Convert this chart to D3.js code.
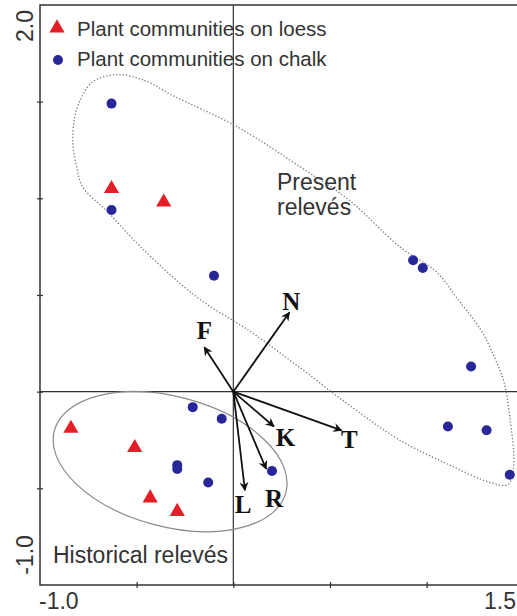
<!DOCTYPE html>
<html>

<head>
    <meta charset="utf-8">
    <style>
        body {
            margin: 0;
            background: white;
        }

        svg {
            display: block;
            font-family: 'Liberation Sans', Arial, sans-serif;
        }

        .frame {
            fill: none;
            stroke: #333;
            stroke-width: 1.5px;
        }

        .zero {
            stroke: #333;
            stroke-width: 1.2px;
        }

        .axis .domain {
            display: none;
        }

        .axis .tick line {
            stroke: #333;
            stroke-width: 1.2px;
        }

        .axis .tick text {
            display: none;
        }

        .big-label {
            font-size: 23px;
            fill: #333;
        }

        .vec-label {
            font-family: 'Liberation Serif', 'Times New Roman', serif;
            font-weight: bold;
            font-size: 25px;
            fill: #111;
        }
    </style>
</head>

<body>
    <svg width="517" height="616"></svg>

    <script src="https://d3js.org/d3.v7.min.js"></script>

    <script>
        // plant communities on loess (red triangles)
        let loessX = [-0.63, -0.36, -0.84, -0.51, -0.43, -0.29]
        let loessY = [1.05, 0.98, -0.19, -0.29, -0.55, -0.62]

        // plant communities on chalk (blue dots)
        let chalkX = [-0.63, -0.63, -0.10, 0.93, 0.98, 1.23, 1.11, 1.31, 1.43, -0.21, -0.06, -0.29, -0.29, -0.13, 0.20]
        let chalkY = [1.49, 0.94, 0.60, 0.68, 0.64, 0.13, -0.18, -0.20, -0.43, -0.08, -0.14, -0.38, -0.40, -0.47, -0.41]

        // environmental vectors
        let vecNames = ["N", "F", "K", "T", "R", "L"]
        let vecX = [0.29, -0.15, 0.21, 0.56, 0.17, 0.06]
        let vecY = [0.41, 0.23, -0.18, -0.20, -0.40, -0.51]
        let vecLabelX = [0.30, -0.15, 0.27, 0.60, 0.21, 0.05]
        let vecLabelY = [0.42, 0.27, -0.28, -0.29, -0.595, -0.625]

        // envelope round the present releves (dotted)
        let hullX = [-0.60, -0.46, -0.31, 0.02, 0.35, 0.60, 0.86, 1.05, 1.16, 1.28, 1.35, 1.40, 1.43, 1.45, 1.42, 1.33, 1.12, 0.86, 0.60, 0.35, 0.09, -0.19, -0.48, -0.65, -0.78, -0.81, -0.83, -0.81, -0.73]
        let hullY = [1.64, 1.61, 1.53, 1.37, 1.16, 0.99, 0.75, 0.62, 0.48, 0.32, 0.18, 0.05, -0.13, -0.39, -0.48, -0.47, -0.38, -0.25, -0.07, 0.12, 0.31, 0.49, 0.75, 0.93, 1.06, 1.16, 1.29, 1.46, 1.60]

        // ellipse round the historical releves: centre, semi axes, tilt (deg)
        let histCentre = [-0.327, -0.362]
        let histAxes = [0.62, 0.336]
        let histTilt = 15

        let xTicks = [-0.5, 0, 0.5, 1.0]
        let yTicks = [-0.5, 0, 0.5, 1.0, 1.5]

        let svg = d3.select("svg")

        let x = d3.scaleLinear()
            .domain([-1, 1.5])
            .range([40, 523.3])

        let y = d3.scaleLinear()
            .domain([-1, 2])
            .range([585, 5])

        let defs = svg.append("defs")
        defs.append("marker")
            .attr("id", "head")
            .attr("viewBox", "0 0 10 10")
            .attr("refX", 9)
            .attr("refY", 5)
            .attr("markerWidth", 12)
            .attr("markerHeight", 9)
            .attr("markerUnits", "userSpaceOnUse")
            .attr("orient", "auto")
            .append("path")
            .attr("d", "M0,0 L10,5 L0,10 L3,5 Z")
            .attr("fill", "#111")

        // frame
        svg.append("rect")
            .attr("class", "frame")
            .attr("x", x(-1))
            .attr("y", y(2))
            .attr("width", x(1.5) - x(-1))
            .attr("height", y(-1) - y(2))

        // zero lines
        svg.append("line")
            .attr("class", "zero")
            .attr("x1", x(0)).attr("x2", x(0))
            .attr("y1", y(2)).attr("y2", y(-1))
        svg.append("line")
            .attr("class", "zero")
            .attr("x1", x(-1)).attr("x2", x(1.5))
            .attr("y1", y(0)).attr("y2", y(0))

        // ticks crossing the axes
        ;[3, -3].forEach(function (s) {
            svg.append("g")
                .attr("class", "axis")
                .attr("transform", `translate(0,${y(-1)})`)
                .call(d3.axisBottom(x).tickValues(xTicks).tickSizeInner(s).tickSizeOuter(0))
            svg.append("g")
                .attr("class", "axis")
                .attr("transform", `translate(${x(-1)},0)`)
                .call(d3.axisLeft(y).tickValues(yTicks).tickSizeInner(s).tickSizeOuter(0))
        })

        // axis end labels
        svg.append("text").attr("class", "big-label")
            .attr("x", x(-1) - 1).attr("y", 609)
            .attr("font-size", "22px")
            .text("-1.0")
        svg.append("text").attr("class", "big-label")
            .attr("x", 516).attr("y", 609)
            .attr("font-size", "22px")
            .attr("text-anchor", "end")
            .text("1.5")
        svg.append("text").attr("class", "big-label")
            .attr("transform", `translate(33,${y(2) + 21}) rotate(-90)`)
            .attr("text-anchor", "middle")
            .text("2.0")
        svg.append("text").attr("class", "big-label")
            .attr("transform", `translate(33,${y(-1) - 30}) rotate(-90)`)
            .attr("text-anchor", "middle")
            .text("-1.0")

        // present releves envelope
        let hull = d3.zip(hullX, hullY)
        svg.append("path")
            .datum(hull)
            .attr("fill", "none")
            .attr("stroke", "#777")
            .attr("stroke-width", 1.3)
            .attr("stroke-dasharray", "1.3,2")
            .attr("d", d3.line()
                .x(d => x(d[0]))
                .y(d => y(d[1]))
                .curve(d3.curveCatmullRomClosed.alpha(0.5)))

        // historical releves ellipse
        svg.append("ellipse")
            .attr("cx", 0).attr("cy", 0)
            .attr("rx", x(histAxes[0]) - x(0))
            .attr("ry", y(0) - y(histAxes[1]))
            .attr("transform", `translate(${x(histCentre[0])},${y(histCentre[1])}) rotate(${histTilt})`)
            .attr("fill", "none")
            .attr("stroke", "#8a8a8a")
            .attr("stroke-width", 1.2)

        // vectors
        let vectors = vecNames.map((n, i) => ({ name: n, x: vecX[i], y: vecY[i], lx: vecLabelX[i], ly: vecLabelY[i] }))

        svg.append("g")
            .selectAll("line")
            .data(vectors)
            .join("line")
            .attr("x1", x(0))
            .attr("y1", y(0))
            .attr("x2", d => x(d.x))
            .attr("y2", d => y(d.y))
            .attr("stroke", "#111")
            .attr("stroke-width", 1.8)
            .attr("marker-end", "url(#head)")

        svg.append("g")
            .selectAll("text")
            .data(vectors)
            .join("text")
            .attr("class", "vec-label")
            .attr("x", d => x(d.lx))
            .attr("y", d => y(d.ly))
            .attr("text-anchor", "middle")
            .text(d => d.name)

        // points
        let chalk = d3.zip(chalkX, chalkY)
        let loess = d3.zip(loessX, loessY)

        svg.append("g")
            .selectAll("circle")
            .data(chalk)
            .join("circle")
            .attr("cx", d => x(d[0]))
            .attr("cy", d => y(d[1]))
            .attr("r", 5)
            .attr("fill", "#27279a")

        let tri = d3.symbol().type(d3.symbolTriangle).size(100)

        svg.append("g")
            .selectAll("path")
            .data(loess)
            .join("path")
            .attr("d", tri)
            .attr("transform", d => `translate(${x(d[0])},${y(d[1])})`)
            .attr("fill", "#e41e26")

        // area labels
        svg.append("text").attr("class", "big-label")
            .attr("x", 277).attr("y", 190)
            .text("Present")
        svg.append("text").attr("class", "big-label")
            .attr("x", 277).attr("y", 215)
            .text("relevés")
        svg.append("text").attr("class", "big-label")
            .attr("x", 53).attr("y", 563)
            .text("Historical relevés")

        // legend
        svg.append("path")
            .attr("d", tri)
            .attr("transform", "translate(57,28)")
            .attr("fill", "#e41e26")
        svg.append("text")
            .attr("x", 77).attr("y", 36)
            .attr("font-size", "20.5px")
            .attr("fill", "#333")
            .text("Plant communities on loess")
        svg.append("circle")
            .attr("cx", 58).attr("cy", 60)
            .attr("r", 5)
            .attr("fill", "#27279a")
        svg.append("text")
            .attr("x", 77).attr("y", 66)
            .attr("font-size", "20.5px")
            .attr("fill", "#333")
            .text("Plant communities on chalk")
    </script>
</body>

</html>
